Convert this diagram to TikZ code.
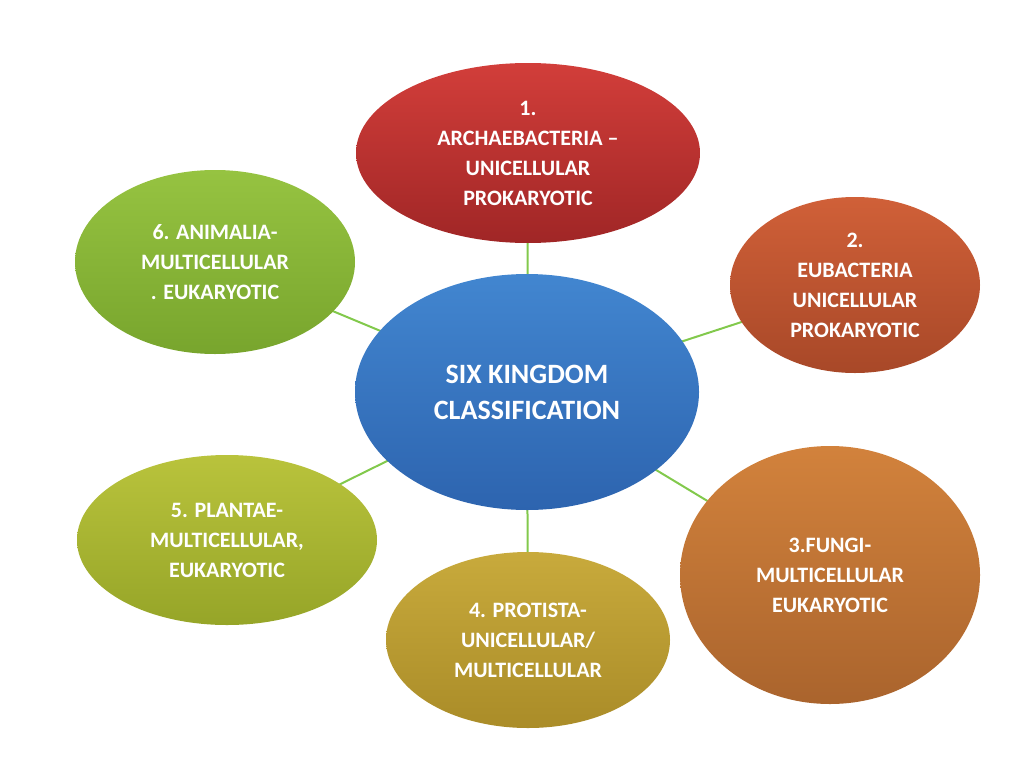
\documentclass[tikz,border=0pt]{standalone}
\usepackage{fontspec}
\setmainfont{Carlito}
\usetikzlibrary{shapes.geometric,backgrounds}
\begin{document}
\begin{tikzpicture}[x=1pt,y=-1pt,
  el/.style={ellipse,inner sep=0pt,text=white,align=center,font=\bfseries\fontsize{22}{30}\selectfont},
  conn/.style={draw=green!40!olive!70!white,line width=2pt}]
\useasboundingbox (0,0) rectangle (1024,768);
\node[el,minimum width=344pt,minimum height=236pt,top color=blue!50!cyan!60!black!80!white,bottom color=blue!55!black!75!white,font=\bfseries\fontsize{28}{36}\selectfont,top color={rgb,255:red,66;green,134;blue,208},bottom color={rgb,255:red,45;green,100;blue,175}] (c) at (527,392) {SIX KINGDOM\\CLASSIFICATION};
\node[el,minimum width=344pt,minimum height=180pt,top color={rgb,255:red,210;green,62;blue,58},bottom color={rgb,255:red,160;green,38;blue,38}] (k1) at (528,153) {1.\\ARCHAEBACTERIA –\\UNICELLULAR\\PROKARYOTIC};
\node[el,minimum width=250pt,minimum height=176pt,top color={rgb,255:red,208;green,96;blue,56},bottom color={rgb,255:red,168;green,72;blue,40}] (k2) at (855,285) {2.\\EUBACTERIA\\UNICELLULAR\\PROKARYOTIC};
\node[el,minimum width=300pt,minimum height=258pt,top color={rgb,255:red,210;green,130;blue,60},bottom color={rgb,255:red,170;green,100;blue,45}] (k3) at (830,575) {3.FUNGI-\\MULTICELLULAR\\EUKARYOTIC};
\node[el,minimum width=284pt,minimum height=176pt,top color={rgb,255:red,200;green,170;blue,60},bottom color={rgb,255:red,170;green,140;blue,40}] (k4) at (528,640) {4. PROTISTA-\\UNICELLULAR/\\MULTICELLULAR};
\node[el,minimum width=300pt,minimum height=170pt,top color={rgb,255:red,185;green,195;blue,60},bottom color={rgb,255:red,150;green,165;blue,40}] (k5) at (227,540) {5. PLANTAE-\\MULTICELLULAR,\\EUKARYOTIC};
\node[el,minimum width=280pt,minimum height=184pt,top color={rgb,255:red,150;green,195;blue,65},bottom color={rgb,255:red,120;green,165;blue,45}] (k6) at (215,262) {6. ANIMALIA-\\MULTICELLULAR\\. EUKARYOTIC};
\begin{pgfonlayer}{background}
\foreach \k in {k1,k2,k3,k4,k5,k6} \draw[conn] (c.center) -- (\k.center);
\end{pgfonlayer}
\end{tikzpicture}
\end{document}
